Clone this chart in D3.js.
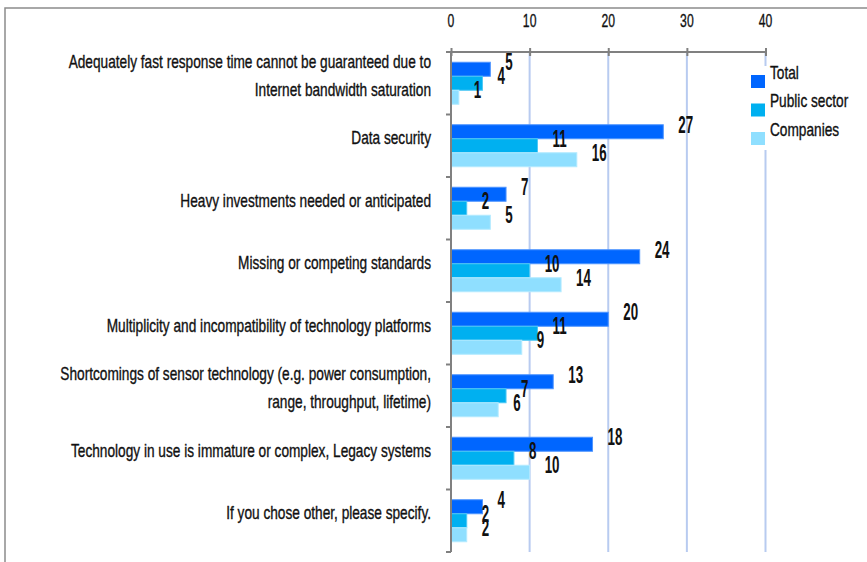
<!DOCTYPE html>
<html>
<head>
<meta charset="utf-8">
<script src="https://cdn.jsdelivr.net/npm/d3@7/dist/d3.min.js"></script>
<style>
  html, body { margin: 0; padding: 0; background: #fff; }
  svg { display: block; }
  text { font-family: "Liberation Sans", Arial, sans-serif; fill: #111; }
  text.plain { stroke: #111; stroke-width: 0.35px; }
</style>
</head>
<body>
<svg id="chart" width="867" height="562"></svg>
<script>
// Barriers reported, by respondent group
const categories = [
  "Adequately fast response time cannot be guaranteed due to\nInternet bandwidth saturation",
  "Data security",
  "Heavy investments needed or anticipated",
  "Missing or competing standards",
  "Multiplicity and incompatibility of technology platforms",
  "Shortcomings of sensor technology (e.g. power consumption,\nrange, throughput, lifetime)",
  "Technology in use is immature or complex, Legacy systems",
  "If you chose other, please specify."
];
const seriesNames = ["Total", "Public sector", "Companies"];
const totalValues    = [5, 27, 7, 24, 20, 13, 18, 4];
const publicValues   = [4, 11, 2, 10, 11, 7, 8, 2];
const companyValues  = [1, 16, 5, 14, 9, 6, 10, 2];
const tickValues = [0, 10, 20, 30, 40];

const colors = ["#0066ff", "#00b0f0", "#8fdfff"];
const strokes = ["#4d94ff", "#4dc8f5", "#b3eaff"];
const narrow = 0.76;   // horizontal squeeze for the condensed lettering

const seriesValues = [totalValues, publicValues, companyValues];
const rows = categories.map((c, i) => ({
  category: c,
  values: seriesNames.map((s, k) => ({ series: s, k, value: seriesValues[k][i] }))
}));

const svg = d3.select("#chart");

// outer frame
svg.append("rect")
  .attr("x", 5).attr("y", 8).attr("width", 900).attr("height", 600)
  .attr("fill", "none").attr("stroke", "#8c8c8c").attr("stroke-width", 1.5);

const x = d3.scaleLinear().domain([0, 40]).range([451, 765.5]);
const y = d3.scaleBand().domain(categories).range([52, 552])
  .paddingInner(0.328).paddingOuter(0.164);
const ySub = d3.scaleBand().domain(seriesNames).range([0, y.bandwidth()]);

// vertical gridlines
svg.append("g").selectAll("line").data(tickValues.slice(1)).join("line")
  .attr("x1", d => x(d)).attr("x2", d => x(d))
  .attr("y1", 52).attr("y2", 552)
  .attr("stroke", "#b8cbf0").attr("stroke-width", 2);

// bars
const groups = svg.append("g").selectAll("g").data(rows).join("g")
  .attr("transform", d => `translate(0,${y(d.category)})`);

groups.selectAll("rect").data(d => d.values).join("rect")
  .attr("x", x(0))
  .attr("y", d => ySub(d.series))
  .attr("width", d => x(d.value) - x(0))
  .attr("height", ySub.bandwidth())
  .attr("fill", d => colors[d.k])
  .attr("stroke", d => strokes[d.k])
  .attr("stroke-width", 1);

// top value axis
const topAxis = d3.axisTop(x).tickValues(tickValues).tickSize(4).tickSizeOuter(0).tickFormat("");
const gTop = svg.append("g").attr("transform", "translate(0,52)").call(topAxis);
gTop.select(".domain").attr("stroke", "#808080").attr("stroke-width", 2)
  .attr("d", `M${x(0) - 5},0H${x(40)}`);
gTop.selectAll(".tick line").attr("stroke", "#808080").attr("stroke-width", 2)
  .attr("y1", 4).attr("y2", -4);

svg.append("g").selectAll("text").data(tickValues).join("text")
  .attr("class", "plain")
  .attr("transform", d => `translate(${x(d)},26.5) scale(0.64,1)`)
  .attr("text-anchor", "middle")
  .attr("font-size", 19)
  .text(d => d);

// left category axis
const step = y.step();
const boundaries = d3.range(categories.length + 1).map(i => 52 + i * step);
svg.append("line")
  .attr("x1", x(0)).attr("x2", x(0)).attr("y1", 52).attr("y2", 552)
  .attr("stroke", "#808080").attr("stroke-width", 2);
svg.append("g").selectAll("line").data(boundaries).join("line")
  .attr("x1", x(0) - 5).attr("x2", x(0)).attr("y1", d => d).attr("y2", d => d)
  .attr("stroke", "#808080").attr("stroke-width", 2);

// category labels
const catText = svg.append("g").selectAll("text").data(categories).join("text")
  .attr("class", "plain")
  .attr("text-anchor", "end")
  .attr("font-size", 18)
  .attr("transform", d => `translate(431,${y(d) + y.bandwidth() / 2 - 8}) scale(${narrow},1)`);
catText.each(function (d) {
  const lines = d.split("\n");
  const t = d3.select(this);
  lines.forEach((ln, i) => {
    t.append("tspan")
      .attr("x", 0)
      .attr("y", (i - (lines.length - 1) / 2) * 28 + 6.5)
      .text(ln);
  });
});

// value labels
groups.selectAll("text.val").data(d => d.values).join("text")
  .attr("class", "val")
  .attr("transform", d => `translate(${x(d.value) + 15},${ySub(d.series) + 8}) scale(0.58,1)`)
  .attr("font-size", 23)
  .attr("font-weight", "bold")
  .text(d => d.value);

// legend
const legend = svg.append("g");
legend.append("rect").attr("x", 745).attr("y", 66).attr("width", 115).attr("height", 84).attr("fill", "#fff");
const li = legend.selectAll("g").data(seriesNames).join("g")
  .attr("transform", (d, i) => `translate(751,${75 + i * 28.5})`);
li.append("rect").attr("width", 14).attr("height", 13).attr("fill", (d, i) => colors[i]);
li.append("text").attr("class", "plain")
  .attr("transform", `translate(19,3.5) scale(${narrow},1)`)
  .attr("font-size", 18).text(d => d);
</script>
</body>
</html>
